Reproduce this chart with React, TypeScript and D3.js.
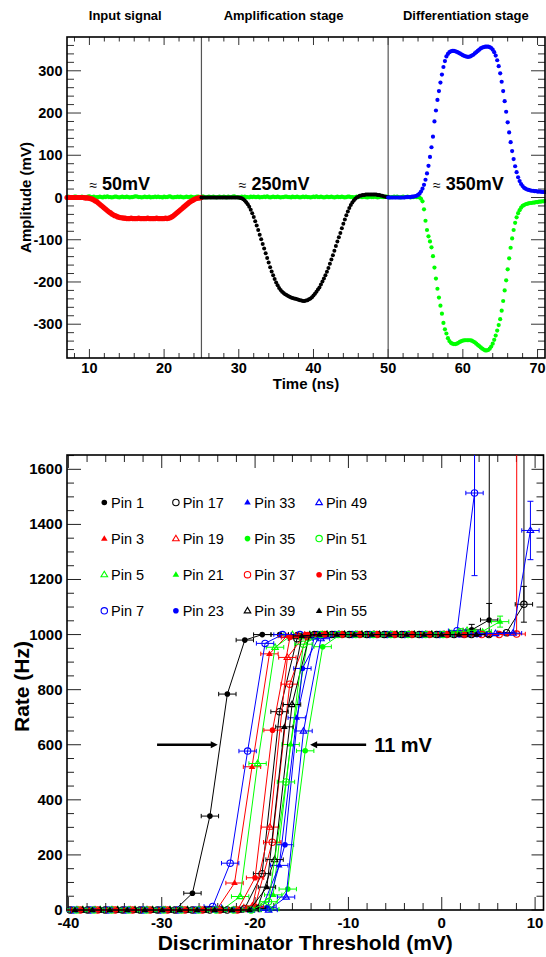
import React from "react";
import * as d3 from "d3";

const FONT = "'Liberation Sans', Arial, Helvetica, sans-serif";

// ---------------- Top panel: waveform samples (0.2 ns sampling) ----------------
const sampleStepNs = 0.2;

const greenStartNs = 7.0;
const greenValues = [
  1, 2, 1, 0, 1, 2, 2, 1, 0, 1, 2, 1, 1, 0, 2, 3, 1, 1, 2, 0,
  1, 1, 2, 1, 0, 2, 1, 3, 1, 1, 0, 1, 2, 2, 1, 0, 1, 2, 1, 1,
  2, 1, 0, 1, 1, 2, 3, 2, 1, 1, 0, 1, 2, 1, 1, 2, 0, 1, 1, 2,
  1, 2, 1, 1, 0, 2, 1, 1, 2, 3, 1, 0, 1, 1, 2, 1, 2, 1, 0, 1,
  2, 1, 1, 2, 1, 0, 1, 2, 2, 1, 1, 3, 1, 0, 1, 2, 1, 1, 2, 1,
  0, 1, 2, 1, 1, 2, 1, 0, 2, 1, 1, 2, 3, 1, 1, 0, 1, 2, 1, 2,
  1, 1, 0, 2, 1, 2, 1, 1, 2, 0, 1, 1, 2, 1, 3, 1, 0, 1, 2, 1,
  1, 2, 1, 0, 1, 1, 2, 2, 1, 1, 0, 2, 1, 1, 2, 1, 0, 1, 2, 1,
  2, 1, 1, 0, 1, 2, 1, 3, 1, 1, 2, 1, 0, 1, 2, 1, 1, 2, 1, 0,
  1, 2, 1, 1, 2, 1, 0, 1, 2, 2, 1, 1, 0, 1, 2, 1, 3, 1, 1, 2,
  1, 0, 1, 2, 1, 1, 2, 1, 0, 1, 2, 1, 1, 2, 2, 1, 0, 1, 1, 2,
  1, 2, 1, 0, 1, 2, 1, 1, 2, 1, 0, 1, 1, 2, 1, 1, 0,
  -3, -9, -28, -55, -77, -92, -104, -118, -139, -166,
  -192, -216, -237, -256, -275, -297, -312, -322, -333, -340,
  -344, -346, -347, -347, -346, -344, -342, -340, -339, -338,
  -338, -338, -338, -338, -339, -341, -343, -346, -349, -352,
  -355, -358, -360, -362, -362, -361, -358, -353, -346, -337,
  -327, -315, -302, -288, -268, -245, -220, -196, -170, -144,
  -119, -97, -77, -60, -47, -37, -30, -24, -20, -18,
  -16, -15, -14, -13, -13, -12, -12, -11, -11, -10,
  -10, -9, -9, -8,
];

const redStartNs = 7.0;
const redValues = [
  0, 0, 0, 0, 0, 0, 0, 0, 0, 0, 0, 0, -1, -1, -1, -2,
  -3, -4, -6, -8, -10, -13, -16, -19, -22, -25, -28, -31, -34, -36, -39, -41, -43, -44, -46, -47, -48, -48, -49, -49, -50,
  -50, -50, -49, -50, -50, -50, -50, -49, -50, -50, -50, -50, -50, -49, -50, -50, -50, -50, -50, -49, -50, -50, -50, -50, -50, -49, -50,
  -49, -48, -46, -44, -41, -38, -35, -32, -29, -26, -23, -20, -17, -14, -11, -9, -7, -5, -3, -2, -1, -1, 0,
];

const blackStartNs = 25.0;
const blackValues = [
  0, 0, 0, 0, 0, 0, 0, 0, 0, 0, 0, 0, 0, 0, 0, 0, 0, 0, 0, 0, 0, 0, 0, 0, 0, 0,
  -1, -2, -4, -7, -11, -16, -22, -29, -37, -46,
  -56, -66, -77, -88, -99, -110, -121, -132, -143, -154,
  -165, -175, -184, -193, -201, -208, -214, -219, -223, -226,
  -229, -231, -233, -235, -237, -238, -239, -240, -241, -242,
  -243, -244, -245, -245,
  -244, -243, -241, -239, -236, -232, -228, -223, -218, -213,
  -206, -199, -192, -184, -176, -167, -157, -147, -137, -126,
  -115, -104, -94, -84, -73, -62, -52, -42, -33, -25,
  -18, -12, -7, -3, 0, 2, 4, 5, 6, 6,
  7, 7, 7, 7, 7, 7, 7, 7, 6, 6,
  5, 4, 3, 2, 1, 1,
];

const blueStartNs = 50.0;
const blueValues = [
  0, 0, 0, 0, 0, 0, 0, 0, 0, 0, 0, 0,
  1, 1, 1, 1,
  2, 2, 3, 4, 6, 9, 14, 21, 30, 42,
  57, 75, 96, 119, 144, 180, 206, 231, 252, 272,
  291, 309, 323, 334, 340, 344, 346, 347, 347, 346,
  345, 343, 341, 339, 337, 335, 334, 333, 333, 334,
  336, 338, 341, 344, 347, 350, 353, 355, 356, 357,
  357, 357, 356, 354, 350, 344, 336, 325, 311, 294,
  274, 252, 228, 203, 178, 154, 131, 110, 91, 74,
  60, 48, 39, 32, 27, 23, 21, 19, 18, 17,
  16, 16, 15, 15, 14, 14, 14, 13, 13, 13,
];

const stageTitles = ["Input signal", "Amplification stage", "Differentiation stage"];
const stageTitleCentersNs = [14.8, 36.0, 60.4];
const stageBoundariesNs = [25, 50];
const amplitudeNotes = ["50mV", "250mV", "350mV"];
const amplitudeNoteNs = [10.0, 30.0, 56.0];
const timeTicks = [10, 20, 30, 40, 50, 60, 70];
const amplitudeTicks = [-300, -200, -100, 0, 100, 200, 300];

// ---------------- Bottom panel: threshold scans ----------------
const thresholdGrid = [
  -40.0, -38.13, -36.26, -34.39, -32.52, -30.65, -28.78, -26.91, -25.04, -23.17,
  -21.3, -19.43, -17.56, -15.69, -13.82, -11.95, -10.08, -8.21, -6.34, -4.47,
  -2.6, -0.73, 1.14, 3.01, 4.88, 6.75, 8.62, 10.49,
];
const thresholdHalfWidth = 0.93;

const pinNames = ["Pin 1", "Pin 3", "Pin 5", "Pin 7", "Pin 17", "Pin 19", "Pin 21", "Pin 23",
  "Pin 33", "Pin 35", "Pin 37", "Pin 39", "Pin 49", "Pin 51", "Pin 53", "Pin 55"];
const pinColors = ["#000000", "#ff0000", "#00ff00", "#0000ff", "#000000", "#ff0000", "#00ff00", "#0000ff",
  "#0000ff", "#00ff00", "#ff0000", "#000000", "#0000ff", "#00ff00", "#ff0000", "#000000"];
const pinMarkers = ["fc", "ft", "ot", "oc", "oc", "ot", "ft", "fc", "ft", "fc", "oc", "ot", "ot", "oc", "fc", "ft"];
const pinOffsets = [0.2, 0.97, -0.3, 0.5, 0.18, -0.85, -0.5, 0.76, 0.15, 1.06, -0.6, -0.35, 0.88, 0.87, -0.57, 0.7];

const pin1Rates = [0, 0, 0, 0, 0, 0, 0, 61, 341, 784, 980, 1000, 1000, 1000, 1000, 1000, 1000, 1000, 1000, 1000, 1000, 1000, 1000, 1017, 1053, 100000];
const pin3Rates = [0, 0, 0, 0, 0, 0, 0, 0, 3, 98, 520, 930, 995, 1000, 1000, 1000, 1000, 1000, 1000, 1000, 1000, 1000, 1000, 1000];
const pin5Rates = [0, 0, 0, 0, 0, 0, 0, 0, 0, 2, 49, 532, 954, 1000, 1000, 1000, 1000, 1000, 1000, 1000, 1000, 1000, 1006, 1015];
const pin7Rates = [0, 0, 0, 0, 0, 0, 0, 0, 13, 170, 577, 968, 1000, 1000, 1000, 1000, 1000, 1000, 1000, 1000, 1000, 1000, 1014, 1514, 100000];
const pin17Rates = [0, 0, 0, 0, 0, 0, 0, 0, 0, 0, 5, 132, 720, 985, 1000, 1000, 1000, 1000, 1000, 1000, 1000, 1000, 1000, 1000, 1000, 1007, 1110, 100000];
const pin19Rates = [0, 0, 0, 0, 0, 0, 0, 0, 0, 0, 0, 15, 301, 917, 998, 1000, 1000, 1000, 1000, 1000, 1000, 1000, 1000, 1000];
const pin21Rates = [0, 0, 0, 0, 0, 0, 0, 0, 0, 0, 0, 8, 55, 601, 985, 1000, 1000, 1000, 1000, 1000, 1000, 1000, 1000, 1000, 1012, 1047];
const pin23Rates = [0, 0, 0, 0, 0, 0, 0, 0, 0, 0, 0, 10, 237, 877, 998, 1000, 1000, 1000, 1000, 1000, 1000, 1000, 1000, 1000];
const pin33Rates = [0, 0, 0, 0, 0, 0, 0, 0, 0, 0, 0, 4, 162, 698, 990, 1000, 1000, 1000, 1000, 1000, 1000, 1000, 1000, 1000];
const pin35Rates = [0, 0, 0, 0, 0, 0, 0, 0, 0, 0, 0, 3, 76, 578, 956, 1000, 1000, 1000, 1000, 1000, 1000, 1000, 1000];
const pin37Rates = [0, 0, 0, 0, 0, 0, 0, 0, 0, 0, 0, 10, 246, 820, 995, 1000, 1000, 1000, 1000, 1000, 1000, 1000, 1000, 1000, 1000, 1000, 1002, 100000];
const pin39Rates = [0, 0, 0, 0, 0, 0, 0, 0, 0, 0, 0, 5, 183, 746, 998, 1000, 1000, 1000, 1000, 1000, 1000, 1000, 1000, 1000];
const pin49Rates = [0, 0, 0, 0, 0, 0, 0, 0, 0, 0, 0, 0, 47, 650, 985, 1000, 1000, 1000, 1000, 1000, 1000, 1000, 1000, 1003, 1004, 1005, 1378];
const pin51Rates = [0, 0, 0, 0, 0, 0, 0, 0, 0, 0, 0, 30, 465, 965, 1000, 1000, 1000, 1000, 1000, 1000, 1000, 1000, 1010];
const pin53Rates = [0, 0, 0, 0, 0, 0, 0, 0, 0, 0, 0, 117, 653, 990, 1000, 1000, 1000, 1000, 1000, 1000, 1000, 1000, 1000, 1000];
const pin55Rates = [0, 0, 0, 0, 0, 0, 0, 0, 0, 0, 0, 83, 665, 995, 1000, 1000, 1000, 1000, 1000, 1000, 1000, 1000, 1000, 1000];

const pinRates = [pin1Rates, pin3Rates, pin5Rates, pin7Rates, pin17Rates, pin19Rates, pin21Rates, pin23Rates,
  pin33Rates, pin35Rates, pin37Rates, pin39Rates, pin49Rates, pin51Rates, pin53Rates, pin55Rates];

const rateErrorPins = ["Pin 1", "Pin 1", "Pin 7", "Pin 17", "Pin 21", "Pin 49"];
const rateErrorIndices = [23, 24, 23, 26, 25, 26];
const rateErrorValues = [20, 60, 300, 65, 20, 106];

const thresholdTicks = [-40, -30, -20, -10, 0, 10];
const rateTicks = [0, 200, 400, 600, 800, 1000, 1200, 1400, 1600];
const arrowRate = 600;
const leftArrowMv = [-30.5, -24.0];
const rightArrowMv = [-8.1, -14.1];
const spreadLabel = "11 mV";

// ---------------- Layout ----------------
const W = 546;
const H = 957;
const top = { l: 67, r: 545, t: 37, b: 358 };
const bot = { l: 67, r: 543.5, t: 455, b: 910 };

const xTop = d3.scaleLinear().domain([7, 71]).range([top.l, top.r]);
const yTop = d3.scaleLinear().domain([-380, 380]).range([top.b, top.t]);
const xBot = d3.scaleLinear().domain([-40.15, 10.9]).range([bot.l, bot.r]);
const yBot = d3.scaleLinear().domain([0, 1652]).range([bot.b, bot.t]);

function Marker({ type, cx, cy, color, scale = 1 }: any) {
  if (type === "fc") return <circle cx={cx} cy={cy} r={2.8 * scale} fill={color} />;
  if (type === "oc") return <circle cx={cx} cy={cy} r={3.2 * scale} fill="none" stroke={color} strokeWidth={1.1} />;
  const h = 3.4 * scale;
  const w = 3.3 * scale;
  const d = `M${cx},${cy - h}L${cx + w},${cy + h * 0.62}L${cx - w},${cy + h * 0.62}Z`;
  if (type === "ft") return <path d={d} fill={color} />;
  return <path d={d} fill="none" stroke={color} strokeWidth={1.1} strokeLinejoin="miter" />;
}

function TopPanel() {
  const traces = [
    { start: greenStartNs, values: greenValues, color: "#00ff00", r: 2.1 },
    { start: redStartNs, values: redValues, color: "#ff0000", r: 2.6 },
    { start: blackStartNs, values: blackValues, color: "#000000", r: 2.0 },
    { start: blueStartNs, values: blueValues, color: "#0000ff", r: 2.1 },
  ];
  const xMinor = d3.range(8, 71.01, 2).filter((v) => Math.abs(v % 10) > 0.01);
  const yMinor = d3.range(-360, 380, 20).filter((v) => Math.abs(v % 100) > 0.01);
  const tickColor = "#333";
  return (
    <g>
      {stageTitles.map((t, i) => (
        <text key={t} x={xTop(stageTitleCentersNs[i])} y={19.5} textAnchor="middle" fontFamily={FONT}
          fontWeight="bold" fontSize={13}>{t}</text>
      ))}
      {timeTicks.map((v) => (
        <g key={"xt" + v}>
          <line x1={xTop(v)} x2={xTop(v)} y1={top.b} y2={top.b - 9} stroke={tickColor} />
          <line x1={xTop(v)} x2={xTop(v)} y1={top.t} y2={top.t + 8} stroke={tickColor} />
          <text x={xTop(v)} y={373} textAnchor="middle" fontFamily={FONT} fontWeight="bold" fontSize={14.5}>{v}</text>
        </g>
      ))}
      {xMinor.map((v) => (
        <g key={"xm" + v}>
          <line x1={xTop(v)} x2={xTop(v)} y1={top.b} y2={top.b - 5} stroke={tickColor} />
          <line x1={xTop(v)} x2={xTop(v)} y1={top.t} y2={top.t + 4.5} stroke={tickColor} />
        </g>
      ))}
      {amplitudeTicks.map((v) => (
        <g key={"yt" + v}>
          <line x1={top.l} x2={top.l + 14} y1={yTop(v)} y2={yTop(v)} stroke={tickColor} />
          <line x1={top.r} x2={top.r - 14} y1={yTop(v)} y2={yTop(v)} stroke={tickColor} />
          <text x={62.5} y={yTop(v) + 5} textAnchor="end" fontFamily={FONT} fontWeight="bold" fontSize={14.5}>{v}</text>
        </g>
      ))}
      {yMinor.map((v) => (
        <g key={"ym" + v}>
          <line x1={top.l} x2={top.l + 7} y1={yTop(v)} y2={yTop(v)} stroke={tickColor} />
          <line x1={top.r} x2={top.r - 7} y1={yTop(v)} y2={yTop(v)} stroke={tickColor} />
        </g>
      ))}
      {stageBoundariesNs.map((v) => (
        <line key={"sb" + v} x1={xTop(v)} x2={xTop(v)} y1={top.t} y2={top.b} stroke="#555" strokeWidth={1.2} />
      ))}
      {traces.map((tr, ti) => (
        <g key={"tr" + ti} fill={tr.color}>
          {tr.values.map((v, i) => (
            <circle key={i} cx={xTop(tr.start + i * sampleStepNs)} cy={yTop(v)} r={tr.r} />
          ))}
        </g>
      ))}
      <rect x={top.l} y={top.t} width={top.r - top.l} height={top.b - top.t} fill="none" stroke="#000" strokeWidth={1.6} />
      {amplitudeNotes.map((t, i) => (
        <text key={t} x={xTop(amplitudeNoteNs[i])} y={189.5} fontFamily={FONT}>
          <tspan fontSize={14}>≈</tspan>
          <tspan dx={5} fontSize={18} fontWeight="bold">{t}</tspan>
        </text>
      ))}
      <text x={(top.l + top.r) / 2} y={388.5} textAnchor="middle" fontFamily={FONT} fontWeight="bold" fontSize={15}>Time (ns)</text>
      <text transform={`translate(31,${(top.t + top.b) / 2}) rotate(-90)`} textAnchor="middle" fontFamily={FONT}
        fontWeight="bold" fontSize={15}>Amplitude (mV)</text>
    </g>
  );
}

function BottomPanel() {
  const xMinor = d3.range(-40, 10.95, 2).filter((v) => Math.abs(v % 10) > 0.01);
  const yMinor = d3.range(50, 1652, 50).filter((v) => Math.abs(v % 200) > 0.01);
  const tickColor = "#222";
  const [xd0, xd1] = xBot.domain();
  const [yd0, yd1] = yBot.domain();
  const line = d3.line<any>().x((d) => xBot(d.x)).y((d) => yBot(d.y));
  return (
    <g>
      <defs>
        <clipPath id="botClip">
          <rect x={bot.l} y={bot.t} width={bot.r - bot.l} height={bot.b - bot.t + 4} />
        </clipPath>
      </defs>
      {thresholdTicks.map((v) => (
        <g key={"bx" + v}>
          <line x1={xBot(v)} x2={xBot(v)} y1={bot.b} y2={bot.b - 13} stroke={tickColor} />
          <line x1={xBot(v)} x2={xBot(v)} y1={bot.t} y2={bot.t + 13} stroke={tickColor} />
          <text x={xBot(v)} y={928} textAnchor="middle" fontFamily={FONT} fontWeight="bold" fontSize={15}>{v}</text>
        </g>
      ))}
      {xMinor.map((v) => (
        <g key={"bxm" + v}>
          <line x1={xBot(v)} x2={xBot(v)} y1={bot.b} y2={bot.b - 7} stroke={tickColor} />
          <line x1={xBot(v)} x2={xBot(v)} y1={bot.t} y2={bot.t + 7} stroke={tickColor} />
        </g>
      ))}
      {rateTicks.map((v) => (
        <g key={"by" + v}>
          <line x1={bot.l} x2={bot.l + 14} y1={yBot(v)} y2={yBot(v)} stroke={tickColor} />
          <line x1={bot.r} x2={bot.r - 12} y1={yBot(v)} y2={yBot(v)} stroke={tickColor} />
          <text x={62.5} y={yBot(v) + 5} textAnchor="end" fontFamily={FONT} fontWeight="bold" fontSize={15}>{v}</text>
        </g>
      ))}
      {yMinor.map((v) => (
        <g key={"bym" + v}>
          <line x1={bot.l} x2={bot.l + 7} y1={yBot(v)} y2={yBot(v)} stroke={tickColor} />
          <line x1={bot.r} x2={bot.r - 7} y1={yBot(v)} y2={yBot(v)} stroke={tickColor} />
        </g>
      ))}
      <rect x={bot.l} y={bot.t} width={bot.r - bot.l} height={bot.b - bot.t} fill="none" stroke="#000" strokeWidth={1.6} />
      {pinNames.map((name, pi) => {
        const color = pinColors[pi];
        const pts = pinRates[pi].map((r, k) => ({ x: thresholdGrid[k] + pinOffsets[pi], y: r, k }));
        const visible = pts.filter((p) => p.x >= xd0 && p.x <= xd1 && p.y >= yd0 && p.y <= yd1);
        return (
          <g key={name}>
            <g clipPath="url(#botClip)" stroke={color} strokeWidth={1} fill="none">
              <path d={line(pts) || ""} />
              {pts.filter((p) => p.y <= yd1).map((p) => {
                const cy = yBot(p.y);
                const xa = xBot(p.x - thresholdHalfWidth);
                const xb = xBot(p.x + thresholdHalfWidth);
                return (
                  <g key={"e" + p.k}>
                    <line x1={xa} x2={xb} y1={cy} y2={cy} />
                    <line x1={xa} x2={xa} y1={cy - 2.2} y2={cy + 2.2} />
                    <line x1={xb} x2={xb} y1={cy - 2.2} y2={cy + 2.2} />
                  </g>
                );
              })}
              {rateErrorPins.map((pn, ei) => {
                if (pn !== name) return null;
                const p = pts[rateErrorIndices[ei]];
                const e = rateErrorValues[ei];
                const cx = xBot(p.x);
                return (
                  <g key={"v" + ei}>
                    <line x1={cx} x2={cx} y1={yBot(p.y - e)} y2={yBot(p.y + e)} />
                    <line x1={cx - 3} x2={cx + 3} y1={yBot(p.y - e)} y2={yBot(p.y - e)} />
                    <line x1={cx - 3} x2={cx + 3} y1={yBot(p.y + e)} y2={yBot(p.y + e)} />
                  </g>
                );
              })}
            </g>
            {visible.map((p) => (
              <Marker key={"m" + p.k} type={pinMarkers[pi]} cx={xBot(p.x)} cy={yBot(p.y)} color={color} />
            ))}
          </g>
        );
      })}
      {pinNames.map((name, pi) => {
        const col = Math.floor(pi / 4);
        const row = pi % 4;
        const mx = 104.3 + col * 71.6;
        const my = 502.5 + row * 36.1;
        return (
          <g key={"lg" + name}>
            <Marker type={pinMarkers[pi]} cx={mx} cy={my} color={pinColors[pi]} />
            <text x={mx + 6.8} y={my + 5.3} fontFamily={FONT} fontSize={14.5}>{name}</text>
          </g>
        );
      })}
      {[leftArrowMv, rightArrowMv].map((a, i) => {
        const x1 = xBot(a[0]);
        const x2 = xBot(a[1]);
        const y = yBot(arrowRate);
        const dir = x2 > x1 ? 1 : -1;
        return (
          <g key={"ar" + i}>
            <line x1={x1} x2={x2 - dir * 5} y1={y} y2={y} stroke="#000" strokeWidth={2.6} />
            <path d={`M${x2},${y}L${x2 - dir * 7},${y - 3.6}L${x2 - dir * 7},${y + 3.6}Z`} fill="#000" />
          </g>
        );
      })}
      <text x={xBot(rightArrowMv[0]) + 8} y={yBot(arrowRate) + 7} fontFamily={FONT} fontWeight="bold" fontSize={20}>{spreadLabel}</text>
      <text x={(bot.l + bot.r) / 2} y={950} textAnchor="middle" fontFamily={FONT} fontWeight="bold" fontSize={21}>Discriminator Threshold (mV)</text>
      <text transform={`translate(29,${(bot.t + bot.b) / 2 + 4}) rotate(-90)`} textAnchor="middle" fontFamily={FONT}
        fontWeight="bold" fontSize={21}>Rate (Hz)</text>
    </g>
  );
}

export default function App() {
  return (
    <svg width={W} height={H} viewBox={`0 0 ${W} ${H}`}
      style={{ position: "absolute", left: 0, top: 0, display: "block", background: "#fff" }}>
      <rect x={0} y={0} width={W} height={H} fill="#fff" />
      <TopPanel />
      <BottomPanel />
    </svg>
  );
}
